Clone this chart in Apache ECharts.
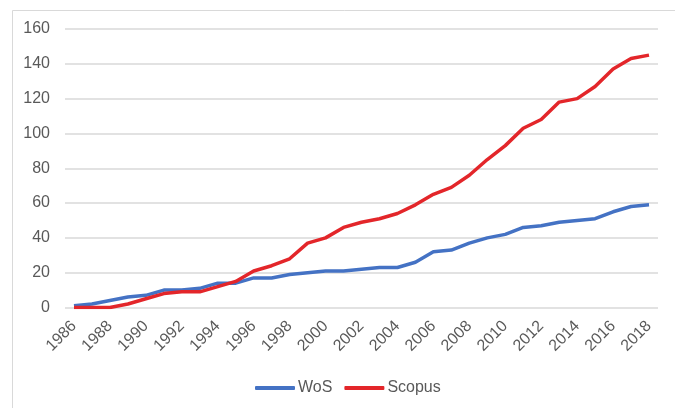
<!DOCTYPE html>
<html>
<head>
<meta charset="utf-8">
<script src="https://cdn.jsdelivr.net/npm/echarts@6/dist/echarts.min.js"></script>
<style>html,body{margin:0;padding:0;background:#fff;}#c{width:675px;height:408px;}</style>
</head>
<body>
<div id="c"></div>
<script>
const years = ['1986','1987','1988','1989','1990','1991','1992','1993','1994','1995','1996','1997','1998','1999','2000','2001','2002','2003','2004','2005','2006','2007','2008','2009','2010','2011','2012','2013','2014','2015','2016','2017','2018'];
const wos = [1,2,4,6,7,10,10,11,14,14,17,17,19,20,21,21,22,23,23,26,32,33,37,40,42,46,47,49,50,51,55,58,59];
const scopus = [0,0,0,2,5,8,9,9,12,15,21,24,28,37,40,46,49,51,54,59,65,69,76,85,93,103,108,118,120,127,137,143,145];
const yTicks = [0,20,40,60,80,100,120,140,160];

const chart = echarts.init(document.getElementById('c'), null, {renderer:'canvas'});
chart.setOption({
  animation:false,
  backgroundColor:'#fff',
  textStyle:{fontFamily:'Liberation Sans, Arial, sans-serif'},
  graphic:[{type:'rect',left:10,top:8,shape:{width:700,height:420},style:{fill:'none',stroke:'#d9d9d9',lineWidth:1},silent:true}],
  grid:{left:65,right:17,top:29,bottom:100.5,containLabel:false},
  legend:{
    left:250, top:375,
    itemWidth:40, itemHeight:4, itemGap:12,
    icon:'roundRect',
    textStyle:{fontSize:16,color:'#595959',padding:[0,0,0,-2]},
    data:['WoS','Scopus']
  },
  xAxis:{
    type:'category', data:years, boundaryGap:true,
    axisLine:{show:false}, axisTick:{show:false},
    axisLabel:{rotate:45, interval:1, fontSize:16, color:'#595959', margin:16}
  },
  yAxis:{
    type:'value', min:yTicks[0], max:yTicks[yTicks.length-1], interval:20,
    axisLine:{show:false}, axisTick:{show:false},
    axisLabel:{fontSize:16, color:'#595959', margin:15},
    splitLine:{lineStyle:{color:'#d9d9d9',width:1.5}}
  },
  series:[
    {name:'WoS', type:'line', data:wos, symbol:'none', lineStyle:{color:'#4472C4',width:3.5}, itemStyle:{color:'#4472C4'}},
    {name:'Scopus', type:'line', data:scopus, symbol:'none', lineStyle:{color:'#E3262A',width:3.5}, itemStyle:{color:'#E3262A'}}
  ]
});
</script>
</body>
</html>
